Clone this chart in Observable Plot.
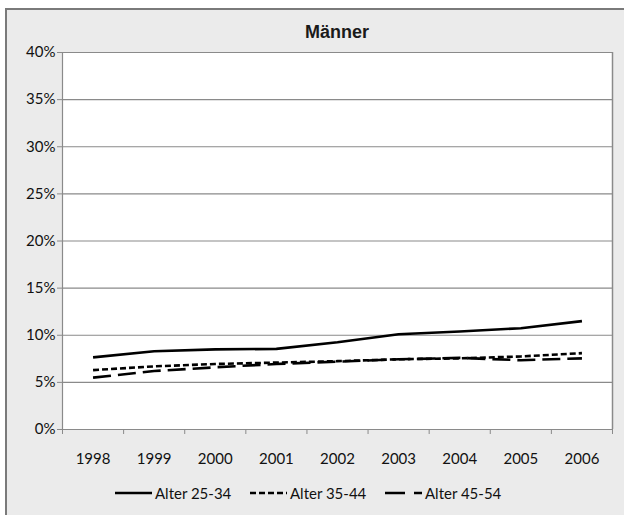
<!DOCTYPE html>
<html>
<head>
<meta charset="utf-8">
<script src="https://cdn.jsdelivr.net/npm/d3@7"></script>
<script src="https://cdn.jsdelivr.net/npm/@observablehq/plot@0.6"></script>
<style>
  html, body { margin: 0; padding: 0; background: #ffffff; overflow: hidden; width: 624px; height: 515px; }
  #frame {
    position: absolute; left: 5px; top: 8px;
    width: 630px; height: 520px;
    border: 2px solid #7a7a7a; background: #ebebeb;
    overflow: hidden;
  }
  #title {
    box-sizing: border-box; width: 617px; height: 30px;
    padding: 12px 12px 0 55px; line-height: 18px;
    text-align: center; font: bold 18px "Liberation Sans", Arial, sans-serif; color: #1a1a1a;
  }
  #chart svg { display: block; background: transparent; }
  #legend {
    display: flex; padding-left: 108px; margin-top: 9px; height: 30px; align-items: center;
    font: 15px Lato, "Open Sans", sans-serif; color: #111;
  }
  .item { width: 135px; display: flex; align-items: center; }
  .item svg { margin-right: 3px; }
</style>
</head>
<body>
<div id="frame">
  <div id="title">Männer</div>
  <div id="chart"></div>
  <div id="legend"></div>
</div>
<script>
const years = [1998, 1999, 2000, 2001, 2002, 2003, 2004, 2005, 2006];
const seriesNames = ["Alter 25-34", "Alter 35-44", "Alter 45-54"];
const alter25_34 = [7.65, 8.3, 8.5, 8.55, 9.25, 10.1, 10.4, 10.75, 11.5];
const alter35_44 = [6.3, 6.7, 6.95, 7.1, 7.25, 7.45, 7.55, 7.75, 8.1];
const alter45_54 = [5.5, 6.2, 6.6, 6.95, 7.2, 7.45, 7.6, 7.35, 7.55];
const yTicks = [0, 5, 10, 15, 20, 25, 30, 35, 40];
const dashes = [null, "6,3", "18,7"];

const data = [];
[alter25_34, alter35_44, alter45_54].forEach((arr, i) => {
  arr.forEach((v, j) => data.push({series: seriesNames[i], year: years[j], value: v / 100}));
});
const boundaries = [...years.map(y => y - 0.5), years[years.length - 1] + 0.5];

const chart = Plot.plot({
  width: 617,
  height: 429,
  marginLeft: 55,
  marginRight: 12,
  marginTop: 12,
  marginBottom: 40,
  style: {background: "transparent", fontFamily: "Lato, 'Open Sans', sans-serif", fontSize: "15px", color: "#111", overflow: "visible"},
  x: {type: "linear", domain: [boundaries[0], boundaries[boundaries.length - 1]]},
  y: {domain: [0, 0.40]},
  marks: [
    Plot.frame({fill: "white", stroke: "none"}),
    Plot.gridY(yTicks.map(d => d / 100), {stroke: "#8a8a8a", strokeOpacity: 1, strokeWidth: 1.2}),
    Plot.ruleX([boundaries[boundaries.length - 1]], {stroke: "#8a8a8a", strokeWidth: 1.5}),
    Plot.ruleX([boundaries[0]], {stroke: "#8a8a8a", strokeWidth: 1.2}),
    Plot.axisX({ticks: boundaries, tickSize: 5, tickFormat: () => "", stroke: "#8a8a8a", label: null}),
    Plot.axisX({ticks: years, tickSize: 0, tickPadding: 24, tickFormat: d => String(d), label: null, fill: "#111"}),
    Plot.axisY({ticks: yTicks.map(d => d / 100), tickSize: 5, tickPadding: 2, tickFormat: d3.format(".0%"), stroke: "#8a8a8a", label: null, fill: "#111"}),
    ...seriesNames.map((s, i) => Plot.line(data.filter(d => d.series === s), {
      x: "year", y: "value", stroke: "black", strokeWidth: 2.6,
      strokeDasharray: dashes[i], strokeLinecap: "butt"
    }))
  ]
});
document.getElementById("chart").appendChild(chart);

const legend = document.getElementById("legend");
seriesNames.forEach((s, i) => {
  const item = document.createElement("div");
  item.className = "item";
  item.innerHTML = `<svg width="37" height="10"><line x1="0" x2="37" y1="5" y2="5" stroke="black" stroke-width="2.6" ${dashes[i] ? `stroke-dasharray="${i === 2 ? "20,9" : dashes[i]}"` : ""}/></svg><span>${s}</span>`;
  legend.appendChild(item);
});
</script>
</body>
</html>
